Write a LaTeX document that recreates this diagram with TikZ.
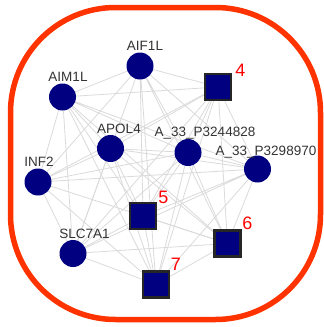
\documentclass[tikz,border=0pt]{standalone}
\usepackage{fontspec}
\setmainfont{Liberation Sans}
\usetikzlibrary{backgrounds}

\definecolor{genenavy}{HTML}{000080}
\definecolor{edgegray}{HTML}{DADADA}
\definecolor{frame}{HTML}{FF3300}
\definecolor{labgray}{HTML}{333333}

\tikzset{
  gene/.style={circle, fill=genenavy, minimum size=27pt, inner sep=0pt},
  mirna/.style={rectangle, fill=genenavy, draw=black!85, line width=2.5pt, minimum size=26pt, inner sep=0pt},
  edge/.style={draw=edgegray, line width=0.8pt},
  glab/.style={anchor=base, text=labgray, font=\fontsize{13.5}{15}\selectfont},
  nlab/.style={anchor=base, text=red, font=\fontsize{18}{20}\selectfont},
}

\begin{document}
\begin{tikzpicture}[x=1pt, y=-1pt]
        \useasboundingbox (0,0) rectangle (324,327);

        % outer frame
        \draw[frame, line width=5.5pt, rounded corners=105pt] (10.5,7.5) rectangle (320.5,319.5);

        % genes
        \node[gene] (aifl) at (140,66) {};
        \node[gene] (aiml) at (62.5,97) {};
        \node[gene] (apol) at (110.5,148.5) {};
        \node[gene] (ap44) at (188,152.5) {};
        \node[gene] (ap89) at (257.5,169) {};
        \node[gene] (inf) at (38,182) {};
        \node[gene] (slc) at (73,253.5) {};

        % modules
        \node[mirna] (m4) at (218,87) {};
        \node[mirna] (m5) at (143,216) {};
        \node[mirna] (m6) at (227.5,243.5) {};
        \node[mirna] (m7) at (156,284.5) {};

        % labels
        \node[glab] (l-aifl) at (145,50.5) {AIF1L};
        \node[glab] (l-aiml) at (68,81) {AIM1L};
        \node[glab] (l-apol) at (119,133) {APOL4};
        \node[glab] (l-ap44) at (205,136) {A\_33\_P3244828};
        \node[glab] (l-ap89) at (266,155) {A\_33\_P3298970};
        \node[glab] (l-inf) at (39,166) {INF2};
        \node[glab] (l-slc) at (84.5,238) {SLC7A1};

        \node[nlab] (l-m4) at (240.5,76) {4};
        \node[nlab] (l-m5) at (163.5,203) {5};
        \node[nlab] (l-m6) at (247.5,229) {6};
        \node[nlab] (l-m7) at (176,270) {7};

        % interactions
        \begin{scope}[on background layer]
        \draw[edge] (aifl) -- (aiml) (aifl) -- (apol) (aifl) -- (ap44) (aifl) -- (ap89) (aifl) -- (inf)
                    (aifl) -- (slc) (aifl) -- (m4) (aifl) -- (m5) (aifl) -- (m6) (aifl) -- (m7);
        \draw[edge] (aiml) -- (apol) (aiml) -- (ap44) (aiml) -- (ap89) (aiml) -- (inf) (aiml) -- (slc)
                    (aiml) -- (m4) (aiml) -- (m5) (aiml) -- (m6) (aiml) -- (m7);
        \draw[edge] (apol) -- (ap44) (apol) -- (ap89) (apol) -- (inf) (apol) -- (slc)
                    (apol) -- (m4) (apol) -- (m5) (apol) -- (m6) (apol) -- (m7);
        \draw[edge] (ap44) -- (ap89) (ap44) -- (inf) (ap44) -- (slc)
                    (ap44) -- (m4) (ap44) -- (m5) (ap44) -- (m6) (ap44) -- (m7);
        \draw[edge] (ap89) -- (inf) (ap89) -- (slc) (ap89) -- (m4) (ap89) -- (m5) (ap89) -- (m6) (ap89) -- (m7);
        \draw[edge] (inf) -- (slc) (inf) -- (m4) (inf) -- (m5) (inf) -- (m6) (inf) -- (m7);
        \draw[edge] (slc) -- (m4) (slc) -- (m5) (slc) -- (m6) (slc) -- (m7);
        \draw[edge] (m4) -- (m5) (m4) -- (m6) (m4) -- (m7);
        \draw[edge] (m5) -- (m6) (m5) -- (m7);
        \draw[edge] (m6) -- (m7);
        \end{scope}
\end{tikzpicture}
\end{document}
